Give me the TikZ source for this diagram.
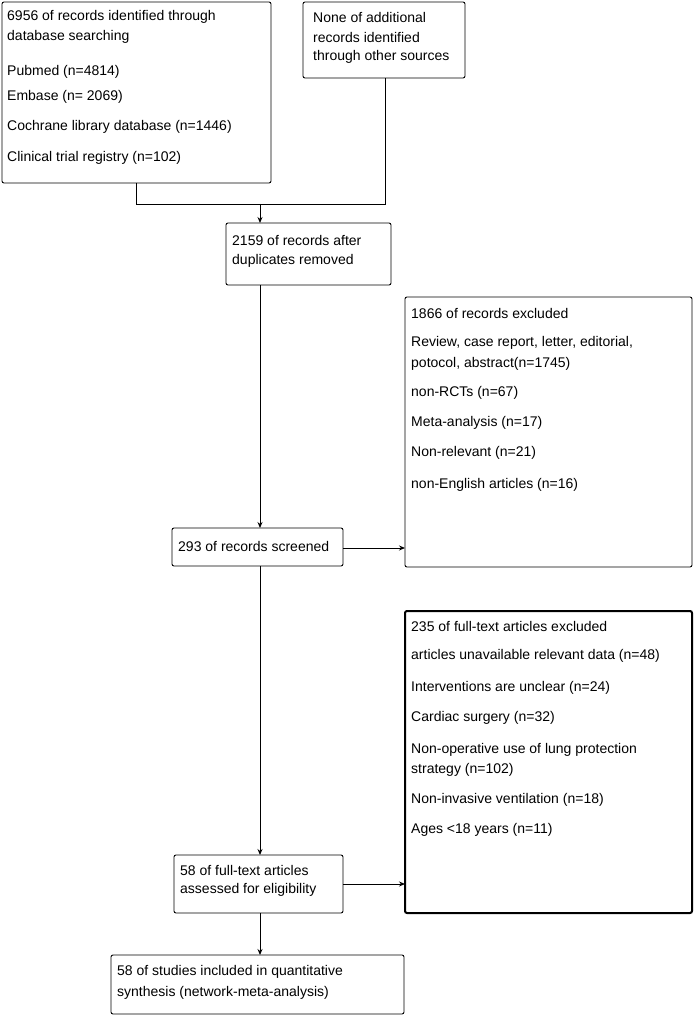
\documentclass[tikz,border=0pt]{standalone}
\usepackage{fontspec}
\setmainfont{Liberation Sans}
\usetikzlibrary{arrows.meta}
\begin{document}
\begin{tikzpicture}[x=1pt,y=-1pt,
  box/.style={draw,line width=0.9pt,rounded corners=2pt},
  thick box/.style={draw,line width=2pt,rounded corners=2pt},
  txt/.style={anchor=west,inner sep=0pt,font=\fontsize{14}{16}\selectfont},
  arr/.style={-{Stealth[length=6pt,width=5pt]},line width=0.9pt},
  ln/.style={line width=0.9pt}]
\path[use as bounding box] (0,0) rectangle (695,1016);
\draw[box] (2,2) rectangle (271,183);
\draw[box] (303,2) rectangle (465,78);
\draw[box] (226,223) rectangle (391,285);
\draw[box] (172,528) rectangle (343,566);
\draw[box] (405,297) rectangle (692,567);
\draw[thick box] (405,611) rectangle (692,913);
\draw[box] (174,855) rectangle (343,913);
\draw[box] (111,955) rectangle (404,1014);
\coordinate (b1) at (136,183); \coordinate (m1) at (136,204);
\coordinate (b2) at (385,78); \coordinate (m2) at (385,204);
\coordinate (mc) at (260,204); \coordinate (t3) at (260,223);
\draw[ln] (b1) -- (m1) -- (m2) -- (b2);
\draw[arr] (mc) -- (t3);
\coordinate (b3) at (260,285); \coordinate (t4) at (260,528);
\draw[arr] (b3) -- (t4);
\coordinate (r4) at (343,548); \coordinate (l5) at (405,548);
\draw[arr] (r4) -- (l5);
\coordinate (b4) at (260,566); \coordinate (t7) at (260,855);
\draw[arr] (b4) -- (t7);
\coordinate (r7) at (343,884); \coordinate (l6) at (405,884);
\draw[arr] (r7) -- (l6);
\coordinate (b7) at (260,913); \coordinate (t8) at (260,955);
\draw[arr] (b7) -- (t8);
% box1
\node[txt] (a1) at (7,17) {6956 of records identified through};
\node[txt] (a2) at (7,37) {database searching};
\node[txt] (a3) at (7,72) {Pubmed (n=4814)};
\node[txt] (a4) at (7,97) {Embase (n= 2069)};
\node[txt] (a5) at (7,127) {Cochrane library database (n=1446)};
\node[txt] (a6) at (7,158) {Clinical trial registry (n=102)};
% box2
\node[txt] (c1) at (313,17) {None of additional};
\node[txt] (c2) at (313,37) {records identified};
\node[txt] (c3) at (313,57) {through other sources};
% box3
\node[txt] (d1) at (232,240) {2159 of records after};
\node[txt] (d2) at (232,261) {duplicates removed};
% box4
\node[txt] (e1) at (178,546) {293 of records screened};
% box5
\node[txt] (f1) at (411,313) {1866 of records excluded};
\node[txt] (f2) at (411,343) {Review, case report, letter, editorial,};
\node[txt] (f3) at (411,364) {potocol, abstract(n=1745)};
\node[txt] (f4) at (411,393) {non-RCTs (n=67)};
\node[txt] (f5) at (411,423) {Meta-analysis (n=17)};
\node[txt] (f6) at (411,453) {Non-relevant (n=21)};
\node[txt] (f7) at (411,485) {non-English articles (n=16)};
% box6
\node[txt] (g1) at (411,626) {235 of full-text articles excluded};
\node[txt] (g2) at (411,656) {articles unavailable relevant data (n=48)};
\node[txt] (g3) at (411,688) {Interventions are unclear (n=24)};
\node[txt] (g4) at (411,718) {Cardiac surgery (n=32)};
\node[txt] (g5) at (411,750) {Non-operative use of lung protection};
\node[txt] (g6) at (411,770) {strategy (n=102)};
\node[txt] (g7) at (411,800) {Non-invasive ventilation (n=18)};
\node[txt] (g8) at (411,830) {Ages <18 years (n=11)};
% box7
\node[txt] (h1) at (180,870) {58 of full-text articles};
\node[txt] (h2) at (180,890) {assessed for eligibility};
% box8
\node[txt] (k1) at (117,972) {58 of studies included in quantitative};
\node[txt] (k2) at (117,993) {synthesis (network-meta-analysis)};
\end{tikzpicture}
\end{document}
